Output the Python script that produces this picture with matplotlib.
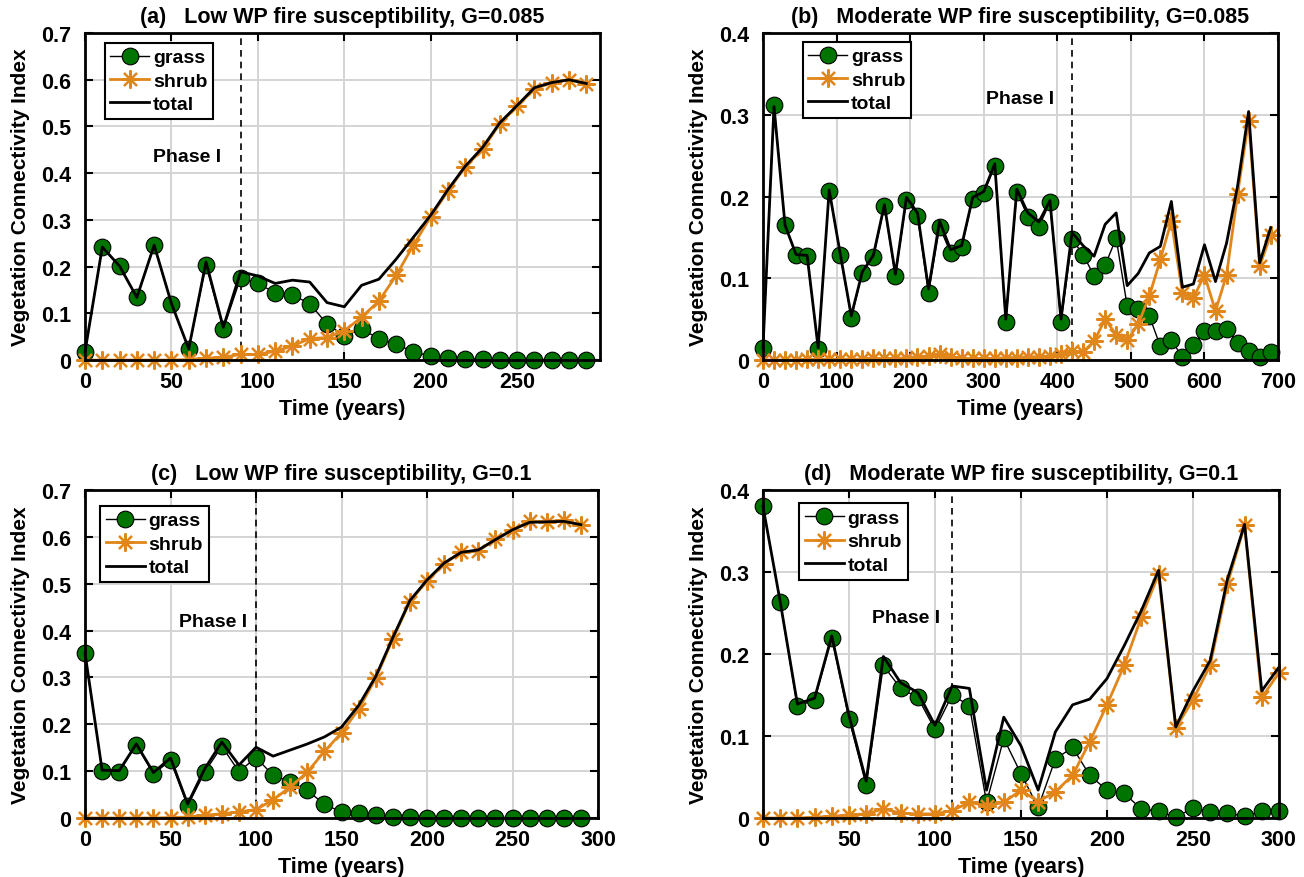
import numpy as np
import matplotlib
matplotlib.use("Agg")
import matplotlib.pyplot as plt
from matplotlib.ticker import FuncFormatter

plt.rcParams['font.family'] = ['Liberation Sans', 'DejaVu Sans']
plt.rcParams['font.weight'] = 'bold'

# ---- data ----
# (a) low WP fire susceptibility, G=0.085
years_a = list(range(0, 300, 10))
grass_a = [0.018, 0.242, 0.201, 0.134, 0.246, 0.121, 0.023, 0.204, 0.066, 0.176,
           0.164, 0.144, 0.139, 0.121, 0.077, 0.052, 0.066, 0.046, 0.034, 0.017,
           0.009, 0.005, 0.003, 0.002, 0.001, 0.001, 0.001, 0.001, 0.001, 0.001]
shrub_a = [0.0, 0.0, 0.0, 0.0, 0.0, 0.0, 0.001, 0.004, 0.006, 0.012,
           0.012, 0.019, 0.030, 0.046, 0.048, 0.062, 0.092, 0.126, 0.181, 0.246,
           0.307, 0.362, 0.414, 0.451, 0.506, 0.543, 0.581, 0.593, 0.600, 0.592]
total_a = [0.018, 0.242, 0.201, 0.134, 0.246, 0.121, 0.024, 0.210, 0.070, 0.189,
           0.180, 0.164, 0.171, 0.167, 0.123, 0.114, 0.160, 0.173, 0.216, 0.263,
           0.310, 0.365, 0.415, 0.455, 0.508, 0.545, 0.583, 0.594, 0.600, 0.592]

# (b) moderate WP fire susceptibility, G=0.085
years_b = list(range(0, 700, 15))
grass_b = [0.015, 0.312, 0.165, 0.128, 0.127, 0.014, 0.207, 0.129, 0.052, 0.107,
           0.126, 0.188, 0.103, 0.196, 0.176, 0.082, 0.163, 0.131, 0.138, 0.197,
           0.204, 0.237, 0.046, 0.206, 0.175, 0.163, 0.193, 0.046, 0.148, 0.129,
           0.103, 0.116, 0.149, 0.066, 0.062, 0.054, 0.017, 0.024, 0.004, 0.018,
           0.036, 0.036, 0.038, 0.021, 0.011, 0.004, 0.010]
shrub_b = [0.0, 0.0, 0.0, 0.0, 0.001, 0.001, 0.001, 0.001, 0.001, 0.001,
           0.002, 0.002, 0.002, 0.003, 0.004, 0.005, 0.007, 0.004, 0.002, 0.002,
           0.002, 0.002, 0.003, 0.003, 0.004, 0.004, 0.005, 0.007, 0.011, 0.010,
           0.023, 0.050, 0.031, 0.024, 0.044, 0.078, 0.123, 0.170, 0.082, 0.076,
           0.104, 0.060, 0.104, 0.203, 0.293, 0.115, 0.153]
total_b = [0.015, 0.310, 0.165, 0.129, 0.128, 0.015, 0.208, 0.130, 0.054, 0.108,
           0.128, 0.190, 0.105, 0.199, 0.180, 0.087, 0.170, 0.135, 0.140, 0.199,
           0.206, 0.240, 0.050, 0.209, 0.180, 0.169, 0.195, 0.050, 0.156, 0.140,
           0.127, 0.166, 0.180, 0.091, 0.106, 0.131, 0.139, 0.194, 0.089, 0.093,
           0.141, 0.096, 0.143, 0.213, 0.304, 0.119, 0.162]

# (c) low WP fire susceptibility, G=0.1
years_c = list(range(0, 300, 10))
grass_c = [0.352, 0.101, 0.099, 0.156, 0.094, 0.123, 0.026, 0.098, 0.153, 0.099,
           0.129, 0.091, 0.077, 0.059, 0.029, 0.013, 0.011, 0.006, 0.003, 0.002,
           0.001, 0.001, 0.001, 0.001, 0.001, 0.001, 0.001, 0.001, 0.001, 0.001]
shrub_c = [0.0, 0.0, 0.0, 0.0, 0.0, 0.001, 0.002, 0.006, 0.009, 0.013,
           0.018, 0.039, 0.066, 0.098, 0.142, 0.182, 0.232, 0.298, 0.382, 0.462,
           0.506, 0.542, 0.568, 0.570, 0.595, 0.614, 0.634, 0.632, 0.636, 0.625]
total_c = [0.352, 0.102, 0.101, 0.158, 0.097, 0.128, 0.030, 0.105, 0.162, 0.113,
           0.151, 0.132, 0.145, 0.158, 0.173, 0.194, 0.240, 0.302, 0.385, 0.464,
           0.508, 0.544, 0.567, 0.572, 0.594, 0.615, 0.631, 0.632, 0.633, 0.626]

# (d) moderate WP fire susceptibility, G=0.1
years_d = list(range(0, 310, 10))
grass_d = [0.380, 0.264, 0.136, 0.144, 0.220, 0.121, 0.040, 0.186, 0.158, 0.147,
           0.108, 0.150, 0.137, 0.019, 0.097, 0.054, 0.013, 0.072, 0.086, 0.052,
           0.034, 0.030, 0.011, 0.008, 0.001, 0.012, 0.007, 0.006, 0.002, 0.008,
           0.009]
shrub_d = [0.0, 0.0, 0.0, 0.001, 0.002, 0.004, 0.005, 0.011, 0.006, 0.005,
           0.005, 0.009, 0.019, 0.015, 0.019, 0.034, 0.020, 0.032, 0.052, 0.093,
           0.138, 0.186, 0.245, 0.297, 0.110, 0.144, 0.186, 0.285, 0.357, 0.147,
           0.177]
total_d = [0.380, 0.264, 0.139, 0.146, 0.222, 0.125, 0.045, 0.197, 0.165, 0.153,
           0.113, 0.161, 0.158, 0.034, 0.123, 0.088, 0.034, 0.105, 0.138, 0.145,
           0.170, 0.210, 0.253, 0.302, 0.111, 0.155, 0.192, 0.291, 0.358, 0.155,
           0.184]

titles = ["(a)   Low WP fire susceptibility, G=0.085",
          "(b)   Moderate WP fire susceptibility, G=0.085",
          "(c)   Low WP fire susceptibility, G=0.1",
          "(d)   Moderate WP fire susceptibility, G=0.1"]
phase_end = [90, 420, 100, 110]
phase_text = [(59, 0.435), (350, 0.32), (75, 0.42), (83, 0.245)]

GREEN = '#007400'
ORANGE = '#e0861a'
ASTERISK = (8, 2, 0)   # MATLAB-like '*' marker: + and x combined

fig = plt.figure(figsize=(13.04, 8.78), dpi=100)

# axes boxes in figure fractions (left, bottom, width, height)
boxes = [(0.0652, 0.5888, 0.3950, 0.3724),
         (0.5851, 0.5888, 0.3950, 0.3724),
         (0.0652, 0.0672, 0.3934, 0.3736),
         (0.5851, 0.0672, 0.3957, 0.3736)]
xlims = [(0, 298), (0, 700), (0, 300), (0, 300)]
xticks = [range(0, 300, 50), range(0, 800, 100), range(0, 350, 50), range(0, 350, 50)]
ylims = [0.7, 0.4, 0.7, 0.4]
legend_anchor = [(0.038, 0.97), (0.077, 0.973), (0.029, 0.951), (0.070, 0.959)]

series = [(years_a, grass_a, shrub_a, total_a),
          (years_b, grass_b, shrub_b, total_b),
          (years_c, grass_c, shrub_c, total_c),
          (years_d, grass_d, shrub_d, total_d)]

fmt = FuncFormatter(lambda v, p: '0' if abs(v) < 1e-9 else f'{v:g}')

for i, (yrs, g, s, t) in enumerate(series):
    ax = fig.add_axes(boxes[i])
    ax.plot(yrs, g, '-o', color='k', lw=1.0, mfc=GREEN, mec='k', mew=0.8,
            ms=12, label='grass', zorder=3, clip_on=False)
    ax.plot(yrs, s, '-', marker=ASTERISK, color=ORANGE, lw=2.0, ms=13, mew=1.6,
            label='shrub', zorder=4, clip_on=False)
    ax.plot(yrs, t, '-', color='k', lw=2.0, label='total', zorder=5, clip_on=False)
    ax.axvline(phase_end[i], color='k', ls=(0, (4, 3)), lw=1.2, zorder=2)
    ax.text(phase_text[i][0], phase_text[i][1], 'Phase I', ha='center', va='center',
            fontsize=14, fontweight='bold')

    ax.set_xlim(*xlims[i])
    ax.set_ylim(0, ylims[i])
    ax.set_xticks(list(xticks[i]))
    ax.set_yticks(np.arange(0, ylims[i] + 0.001, 0.1))
    ax.yaxis.set_major_formatter(fmt)
    ax.grid(True, color='#d4d4d4', lw=1.4)
    ax.set_axisbelow(True)
    ax.tick_params(direction='in', length=6, width=1.5, top=True, right=True,
                   labelsize=15.5)
    ax.tick_params(axis='x', pad=8)
    ax.tick_params(axis='y', pad=10)
    for lab in ax.get_xticklabels() + ax.get_yticklabels():
        lab.set_fontweight('bold')
    for sp in ax.spines.values():
        sp.set_linewidth(2.0)
        sp.set_zorder(6)
    ax.set_xlabel('Time (years)', fontsize=15.5, fontweight='bold', labelpad=4)
    ax.set_ylabel('Vegetation Connectivity Index', fontsize=15, fontweight='bold',
                  labelpad=8)
    ax.set_title(titles[i], fontsize=15.5, fontweight='bold', pad=8)

    leg = ax.legend(loc='upper left', bbox_to_anchor=legend_anchor[i], fontsize=14,
                    fancybox=False, framealpha=1, edgecolor='k', handlelength=2.0,
                    borderpad=0.3, labelspacing=0.3, handletextpad=0.2,
                    borderaxespad=0)
    leg.get_frame().set_linewidth(1.5)
    leg.set_zorder(10)

fig.savefig('out.png', dpi=100)
